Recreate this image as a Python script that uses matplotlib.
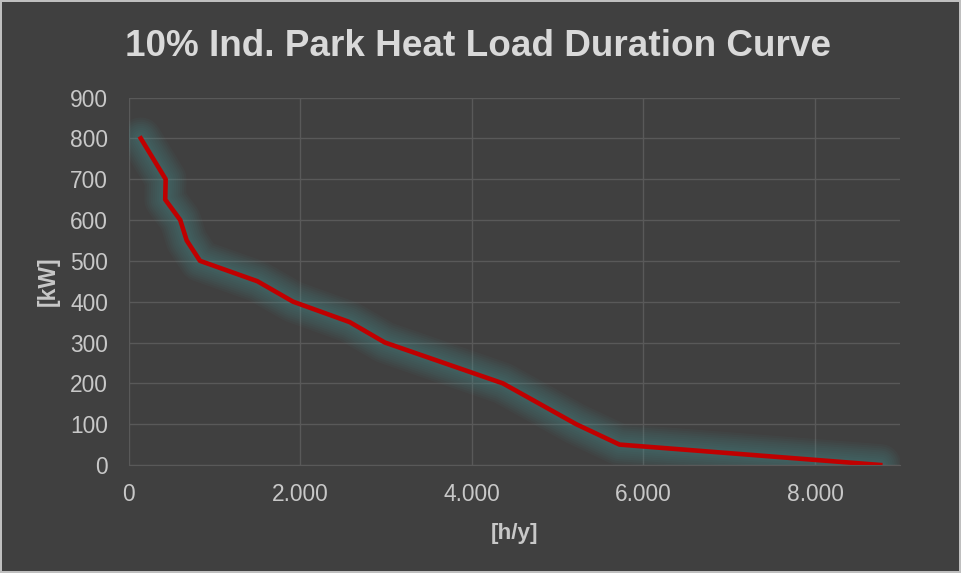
import matplotlib.pyplot as plt
from matplotlib.ticker import FuncFormatter

# load duration curve
hours = [140, 430, 425, 600, 675, 830, 1500, 1915, 2575, 2985, 4360, 5215, 5720, 8760]
load_kw = [800, 700, 650, 600, 550, 500, 450, 400, 350, 300, 200, 100, 50, 0]

x_ticks = [0, 2000, 4000, 6000, 8000]
y_ticks = [0, 100, 200, 300, 400, 500, 600, 700, 800, 900]

bg = '#404040'
txt = '#D9D9D9'
tick_txt = '#C8C8C8'
grid = '#595959'

plt.rcParams['font.family'] = 'Liberation Sans'

fig = plt.figure(figsize=(9.61, 5.73), dpi=100, facecolor=bg, edgecolor='#BFBFBF', linewidth=1.5)
ax = fig.add_axes([0.134, 0.1885, 0.8025, 0.6413])
ax.set_facecolor(bg)

# wide, soft teal glow behind the red line
for lw in [30, 27, 24, 21, 18, 15, 12, 9, 6]:
    ax.plot(hours, load_kw, color='#4E9696', linewidth=lw, alpha=0.055,
            solid_capstyle='round', solid_joinstyle='round')
ax.plot(hours, load_kw, color='#C00000', linewidth=3.3, solid_joinstyle='round')

ax.set_xlim(0, 8990)
ax.set_ylim(0, 900)
ax.set_xticks(x_ticks)
ax.set_yticks(y_ticks)
ax.xaxis.set_major_formatter(FuncFormatter(lambda v, p: f"{v:,.0f}".replace(",", ".")))

ax.grid(True, color=grid, linewidth=1)
ax.set_axisbelow(True)
for s in ['top', 'right', 'left']:
    ax.spines[s].set_visible(False)
ax.spines['bottom'].set_color(grid)
ax.tick_params(length=0, colors=tick_txt, labelsize=16.4)
ax.tick_params(axis='x', pad=13)
ax.tick_params(axis='y', pad=15)

ax.set_xlabel('[h/y]', color=tick_txt, fontsize=16.2, fontweight='bold', labelpad=12)
ax.set_ylabel('[kW]', color=tick_txt, fontsize=16.5, fontweight='bold', labelpad=7)
fig.text(0.4975, 1 - 56 / 573, '10% Ind. Park Heat Load Duration Curve', color=txt,
         fontsize=26.6, fontweight='bold', ha='center', va='baseline')

fig.savefig('out.png', dpi=100, facecolor=bg, edgecolor='#BFBFBF')
